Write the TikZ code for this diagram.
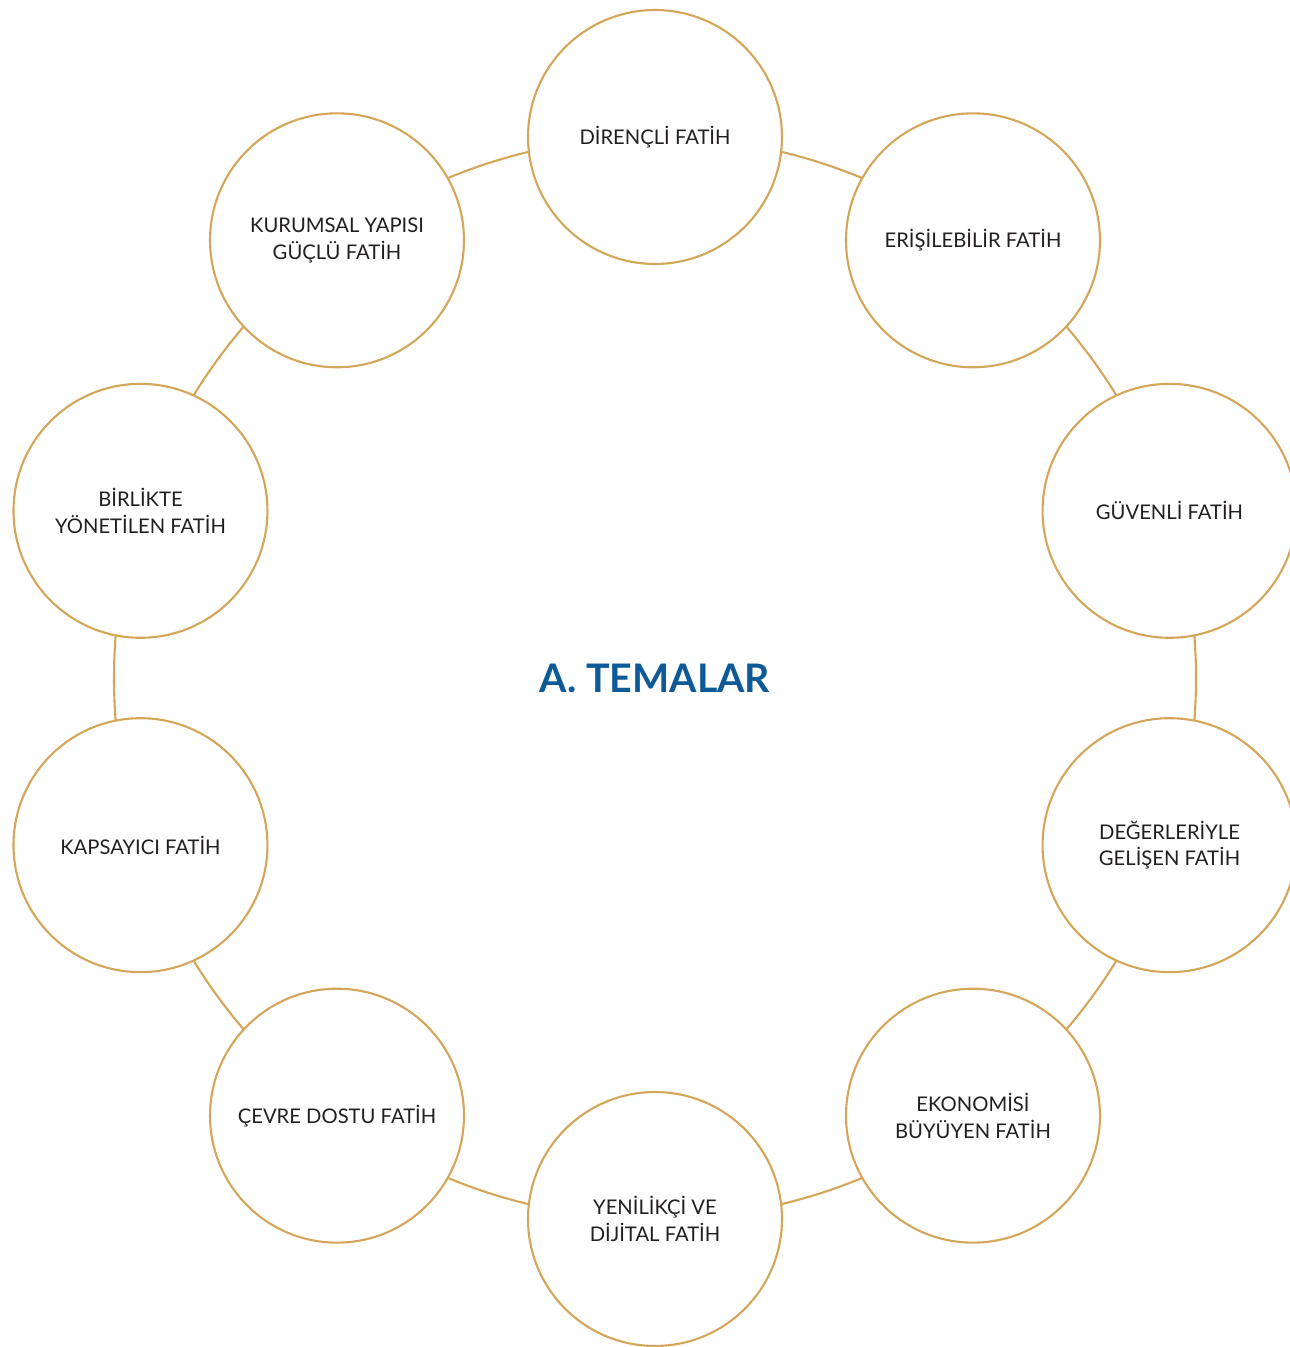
\documentclass[tikz,border=0pt]{standalone}
\usepackage{fontspec}
\setmainfont{Lato}
\definecolor{altin}{HTML}{D4A65A}
\definecolor{lacivert}{HTML}{0D5A96}
\definecolor{koyu}{HTML}{231F20}
\tikzset{
    tema/.style={circle,draw=altin,line width=1.2pt,fill=white,minimum size=5.08cm,inner sep=0pt,
        align=center,text=koyu,font=\fontsize{11.5}{15.3}\selectfont},
}
\begin{document}
\begin{tikzpicture}[x=0.02cm,y=0.02cm]
        \useasboundingbox (0,0) rectangle (1290,1347);
        \begin{scope}[shift={(655,669)}]
            \node[font=\fontsize{22.4}{26}\selectfont\bfseries,text=lacivert] (baslik) at (0,0) {A. TEMALAR};
            \draw[altin,line width=1.2pt] (0,0) circle[radius=541];
            \foreach \a/\n/\t in {90/direncli/{DİRENÇLİ FATİH},54/erisilebilir/{ERİŞİLEBİLİR FATİH},
                18/guvenli/{GÜVENLİ FATİH},-18/degerleriyle/{DEĞERLERİYLE\\GELİŞEN FATİH},
                -54/ekonomisi/{EKONOMİSİ\\BÜYÜYEN FATİH},-90/yenilikci/{YENİLİKÇİ VE\\DİJİTAL FATİH},
                -126/cevre/{ÇEVRE DOSTU FATİH},-162/kapsayici/{KAPSAYICI FATİH},
                162/birlikte/{BİRLİKTE\\YÖNETİLEN FATİH},126/kurumsal/{KURUMSAL YAPISI\\GÜÇLÜ FATİH}}
                \node[tema] (\n) at (\a:541) {\t};
        \end{scope}
    \end{tikzpicture}
\end{document}
